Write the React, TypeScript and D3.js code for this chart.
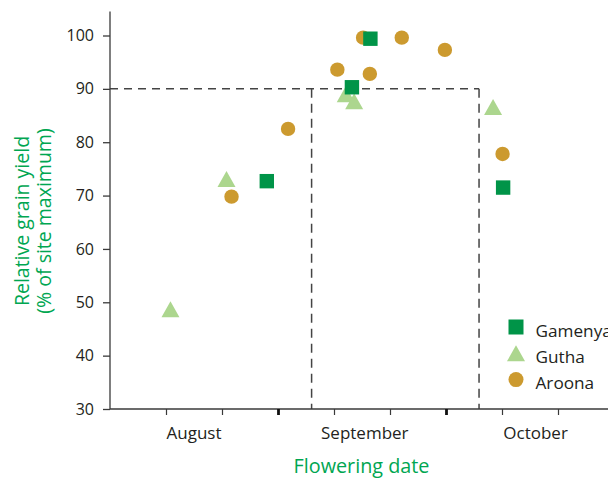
import React from 'react';
import * as d3 from 'd3';

// days counted from 1 August
const gamenyaDay = [28.0, 43.2, 46.5, 70.2];
const gamenyaYield = [72.7, 90.3, 99.4, 71.5];
const guthaDay = [10.8, 20.8, 42.1, 43.6, 68.4];
const guthaYield = [48.7, 73.1, 89.0, 87.7, 86.6];
const aroonaDay = [21.7, 31.8, 40.6, 45.2, 46.4, 52.1, 59.8, 70.1];
const aroonaYield = [69.8, 82.5, 93.6, 99.6, 92.8, 99.6, 97.3, 77.8];

const months = ['August', 'September', 'October'];
const monthMid = [15, 45.5, 76];
const dayTicks = [10, 20, 30, 40, 50, 60, 70, 80];
const monthStarts = [30, 60];
const yTicks = [30, 40, 50, 60, 70, 80, 90, 100];
const yieldThreshold = 90;
const windowStart = 36;
const windowEnd = 65.9;

const varieties = ['Gamenya', 'Gutha', 'Aroona'];
const colors = ['#009448', '#acd68e', '#cc9a2f'];

const FONT = '"Open Sans", sans-serif';

const App: React.FC = () => {
  const svgRef = React.useRef(null);
  const width = 608;
  const height = 478;

  React.useEffect(() => {
    const x = d3.scaleLinear().domain([0, 90]).range([110, 614]);
    const y = d3.scaleLinear().domain([30, 100]).range([409, 35.5]);

    const svg = d3.select(svgRef.current);
    svg.selectAll('*').remove();

    const axisColor = '#3a3a3a';

    // dashed guide lines
    const dash = svg.append('g').attr('stroke', '#444').attr('stroke-width', 1.5).attr('fill', 'none');
    dash
      .append('line')
      .attr('x1', x(0))
      .attr('x2', x(windowEnd))
      .attr('y1', y(yieldThreshold))
      .attr('y2', y(yieldThreshold))
      .attr('stroke-dasharray', '8,6');
    [windowStart, windowEnd].forEach((d) => {
      dash
        .append('line')
        .attr('x1', x(d))
        .attr('x2', x(d))
        .attr('y1', y(yieldThreshold))
        .attr('y2', y(30))
        .attr('stroke-dasharray', '9,6');
    });

    // y axis
    const yAxis = d3.axisLeft(y).tickValues(yTicks).tickSize(7).tickPadding(9);
    const yg = svg.append('g').attr('transform', `translate(${x(0)},0)`).call(yAxis);
    yg.select('.domain').attr('d', `M0,${y(104.5)}V${y(30)}`).attr('stroke', axisColor).attr('stroke-width', 1.3);
    yg.selectAll('line').attr('stroke', axisColor).attr('stroke-width', 1.3);
    yg.selectAll('text').attr('font-family', FONT).attr('font-size', 16).attr('fill', '#231f20');

    // x axis
    const xAxis = d3.axisBottom(x).tickValues(dayTicks).tickSize(6).tickFormat(() => '');
    const xg = svg.append('g').attr('transform', `translate(0,${y(30)})`).call(xAxis);
    xg.select('.domain').attr('d', `M${x(0)},0H${width}`).attr('stroke', axisColor).attr('stroke-width', 1.3);
    xg.selectAll('.tick line')
      .attr('stroke', (d: any) => (monthStarts.includes(d) ? '#111' : axisColor))
      .attr('stroke-width', (d: any) => (monthStarts.includes(d) ? 2.8 : 1.2));

    svg
      .append('g')
      .selectAll('text')
      .data(months)
      .enter()
      .append('text')
      .attr('x', (d, i) => x(monthMid[i]))
      .attr('y', 439)
      .attr('text-anchor', 'middle')
      .attr('font-family', FONT)
      .attr('font-size', 17)
      .attr('fill', '#231f20')
      .text((d) => d);

    // axis titles
    svg
      .append('text')
      .attr('x', 361.5)
      .attr('y', 473)
      .attr('text-anchor', 'middle')
      .attr('font-family', FONT)
      .attr('font-size', 19.8)
      .attr('fill', '#00a651')
      .text('Flowering date');

    const yTitle = svg
      .append('text')
      .attr('transform', 'translate(29,221) rotate(-90)')
      .attr('text-anchor', 'middle')
      .attr('font-family', FONT)
      .attr('font-size', 19.5)
      .attr('fill', '#00a651');
    yTitle.append('tspan').attr('x', 0).attr('dy', 0).text('Relative grain yield');
    yTitle.append('tspan').attr('x', 0).attr('dy', 22).text('(% of site maximum)');

    // markers
    const tri = (cx: number, cy: number) =>
      `M${cx},${cy - 8}L${cx + 9},${cy + 8}L${cx - 9},${cy + 8}Z`;

    const pts = svg.append('g');
    pts
      .selectAll('.gutha')
      .data(guthaDay)
      .enter()
      .append('path')
      .attr('d', (d, i) => tri(x(d), y(guthaYield[i])))
      .attr('fill', colors[1]);
    pts
      .selectAll('.aroona')
      .data(aroonaDay)
      .enter()
      .append('circle')
      .attr('cx', (d) => x(d))
      .attr('cy', (d, i) => y(aroonaYield[i]))
      .attr('r', 7.2)
      .attr('fill', colors[2]);
    pts
      .selectAll('.gamenya')
      .data(gamenyaDay)
      .enter()
      .append('rect')
      .attr('x', (d) => x(d) - 7.2)
      .attr('y', (d, i) => y(gamenyaYield[i]) - 7.2)
      .attr('width', 14.4)
      .attr('height', 14.4)
      .attr('fill', colors[0]);

    // legend
    const legend = svg.append('g').attr('transform', 'translate(516,327)');
    varieties.forEach((name, i) => {
      const g = legend.append('g').attr('transform', `translate(0,${i * 26.3})`);
      if (i === 0) {
        g.append('rect').attr('x', -7.5).attr('y', -7.5).attr('width', 15).attr('height', 15).attr('fill', colors[0]);
      } else if (i === 1) {
        g.append('path').attr('d', tri(0, 0)).attr('fill', colors[1]);
      } else {
        g.append('circle').attr('r', 7.5).attr('fill', colors[2]);
      }
      g.append('text')
        .attr('x', 19.5)
        .attr('y', 9.5)
        .attr('font-family', FONT)
        .attr('font-size', 17.2)
        .attr('fill', '#231f20')
        .text(name);
    });
  }, []);

  return (
    <svg
      ref={svgRef}
      width={width}
      height={height}
      style={{ position: 'absolute', left: 0, top: 0, background: '#fff' }}
    />
  );
};

export default App;
